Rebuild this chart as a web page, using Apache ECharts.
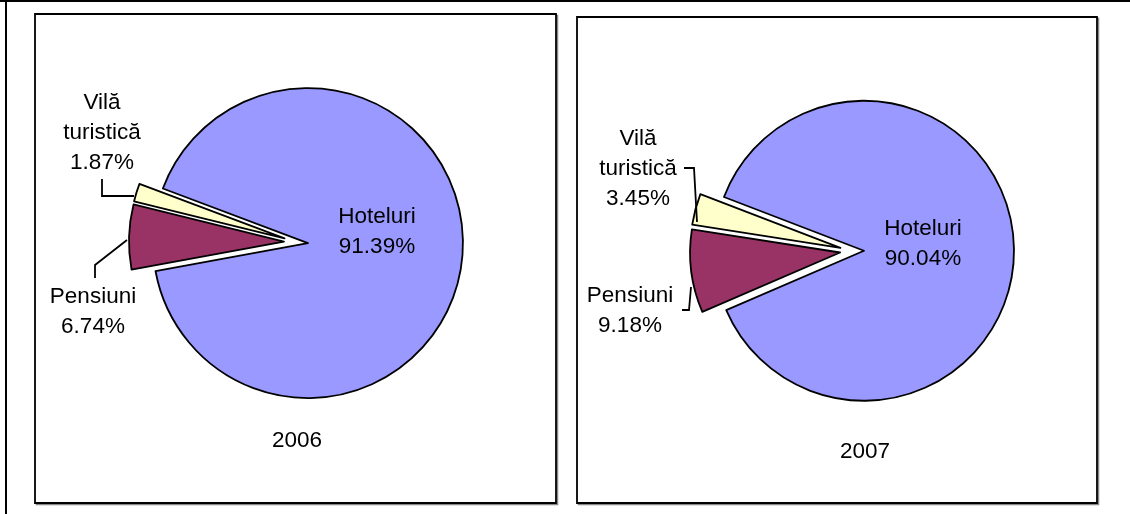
<!DOCTYPE html>
<html>
<head>
<meta charset="utf-8">
<script src="https://cdn.jsdelivr.net/npm/echarts@6/dist/echarts.min.js"></script>
<style>
  html, body { margin: 0; padding: 0; background: #fff; }
  #chart { width: 1130px; height: 514px; }
</style>
</head>
<body>
<div id="chart"></div>
<script>
// Accommodation structure by unit type (share of total, %)
const categories = ['Hoteluri', 'Pensiuni', 'Vilă turistică'];
const years = ['2006', '2007'];
const values2006 = [91.39, 6.74, 1.87];
const values2007 = [90.04, 9.18, 3.45];

const colors = ['#9999FF', '#993366', '#FFFFCC'];
const FONT = '"Liberation Sans", Arial, sans-serif';
const FONT_SIZE = 22.5;

// geometry of each pie panel: pie placement, frame, title and label anchors
const panels = [
  { center: [296, 242], radius: 155, startAngle: 159.4, title: [297, 441],
    box: { x: 35, y: 14, w: 521, h: 489 },
    labels: [
      { x: 377, y: 232 },
      { x: 93, y: 312, line: [[127, 240], [95, 265], [95, 278]] },
      { x: 102, y: 133, line: [[134, 196], [102, 196], [102, 179]] }
    ] },
  { center: [852, 251], radius: 150, startAngle: 159, title: [865, 452],
    box: { x: 577, y: 17, w: 520, h: 486 },
    labels: [
      { x: 923, y: 244 },
      { x: 630, y: 311, line: [[691, 287], [689, 310], [682, 310]] },
      { x: 638, y: 169, line: [[697, 222], [694, 168], [684, 168]] }
    ] }
];

const seriesValues = [values2006, values2007];

function labelText(name, value) {
  return name.replace(' ', '\n') + '\n' + value.toFixed(2) + '%';
}

function makeSeries(idx) {
  const p = panels[idx];
  const vals = seriesValues[idx];
  return {
    type: 'pie',
    name: years[idx],
    center: p.center,
    radius: p.radius,
    startAngle: p.startAngle,
    clockwise: true,
    selectedMode: 'multiple',
    selectedOffset: 12,
    animation: false,
    silent: true,
    emphasis: { disabled: true },
    itemStyle: { borderColor: '#000', borderWidth: 1.8 },
    select: { itemStyle: { borderColor: '#000', borderWidth: 1.8 } },
    label: { show: false },
    labelLine: { show: false },
    data: categories.map((c, i) => ({
      name: c,
      value: vals[i],
      selected: true,
      itemStyle: { color: colors[i] }
    }))
  };
}

const graphics = [];
// outer frame lines
graphics.push({ type: 'rect', silent: true, shape: { x: 0, y: 0, width: 1130, height: 2 }, style: { fill: '#000' } });
graphics.push({ type: 'rect', silent: true, shape: { x: 5, y: 0, width: 2, height: 514 }, style: { fill: '#000' } });
panels.forEach((p, i) => {
  // panel shadow then border
  graphics.push({ type: 'rect', silent: true, z: -2,
    shape: { x: p.box.x + 1.5, y: p.box.y + 1.5, width: p.box.w, height: p.box.h },
    style: { fill: 'none', stroke: '#888', lineWidth: 1.5 } });
  graphics.push({ type: 'rect', silent: true, z: -1,
    shape: { x: p.box.x, y: p.box.y, width: p.box.w, height: p.box.h },
    style: { fill: '#fff', stroke: '#000', lineWidth: 1.8 } });
  graphics.push({ type: 'text', silent: true,
    x: p.title[0], y: p.title[1],
    style: { text: years[i], fill: '#000', font: FONT_SIZE + 'px ' + FONT,
             textAlign: 'center', textVerticalAlign: 'middle' } });
  // data labels and leader lines
  categories.forEach((c, j) => {
    const l = p.labels[j];
    graphics.push({ type: 'text', silent: true, z: 10,
      x: l.x, y: l.y,
      style: { text: labelText(c, seriesValues[i][j]), fill: '#000',
               font: FONT_SIZE + 'px ' + FONT, lineHeight: 30,
               textAlign: 'center', textVerticalAlign: 'middle' } });
    if (l.line) {
      graphics.push({ type: 'polyline', silent: true, z: 10,
        shape: { points: l.line },
        style: { stroke: '#000', lineWidth: 1.8, fill: 'none' } });
    }
  });
});

const chart = echarts.init(document.getElementById('chart'), null, { renderer: 'canvas' });
chart.setOption({
  backgroundColor: '#fff',
  animation: false,
  graphic: { elements: graphics },
  series: [makeSeries(0), makeSeries(1)]
});
</script>
</body>
</html>
